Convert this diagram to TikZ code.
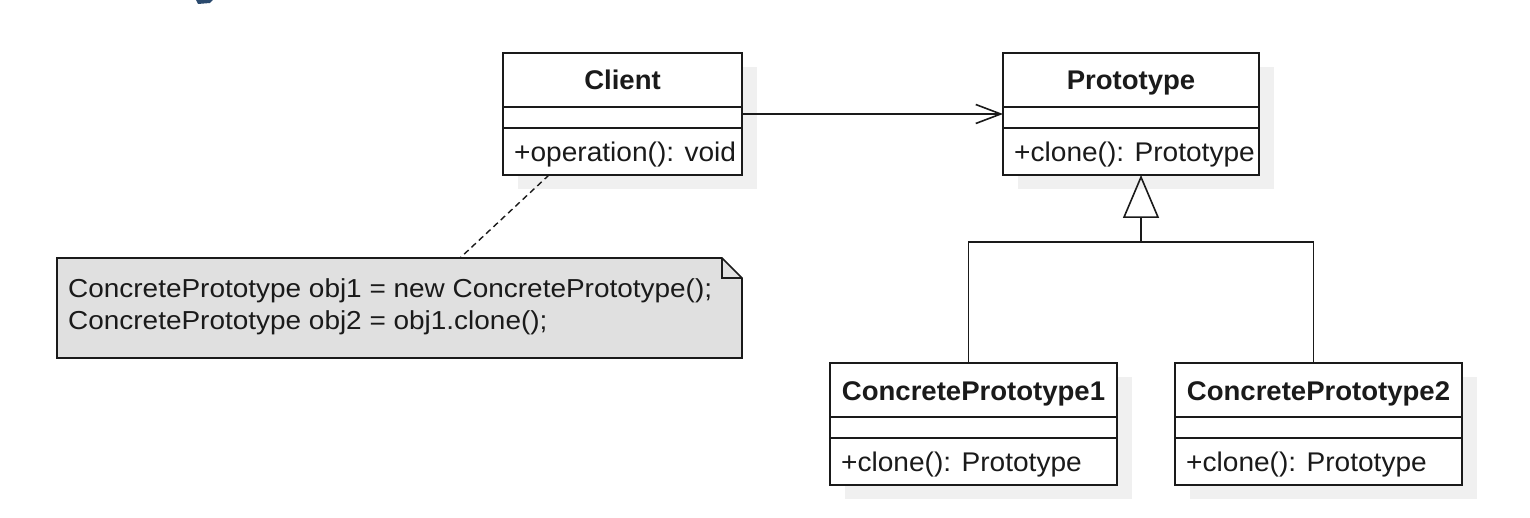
\documentclass[tikz,border=0pt]{standalone}
\usepackage{fontspec}
\setmainfont{Liberation Sans}
\newfontfamily\methodfont{Liberation Sans}[FakeStretch=1.04]
\newfontfamily\notefont{Liberation Sans}[FakeStretch=1.075]
\newfontfamily\titlefont{Liberation Sans}[FakeStretch=1.02]
\usetikzlibrary{arrows.meta}
\definecolor{shadowc}{HTML}{F0F0F0}
\definecolor{notefill}{HTML}{E0E0E0}
\definecolor{linec}{HTML}{1A1A1A}
\definecolor{textc}{HTML}{1A1A1A}
\definecolor{headc}{HTML}{2B4A6E}
\tikzset{
  classbox/.style={draw=linec, line width=1.6pt, fill=white, minimum height=122pt, inner sep=0pt, outer sep=0pt},
  sepline/.style={draw=linec, line width=1.6pt},
  titletext/.style={font=\titlefont\fontsize{27}{32}\selectfont\bfseries, text=textc, anchor=base, inner sep=0pt},
  methodtext/.style={font=\methodfont\fontsize{27}{32}\selectfont, text=textc, anchor=base west, inner sep=0pt},
  notetext/.style={font=\notefont\fontsize{26}{31}\selectfont, text=textc, anchor=base west, inner sep=0pt},
  connector/.style={draw=linec, line width=1.6pt},
  assoc/.style={connector, -{Straight Barb[length=25pt, width=19pt, line width=1.6pt]}},
  generalization/.style={connector, -{Triangle[open, length=43pt, width=36pt, line width=1.6pt]}},
  notelink/.style={draw=linec, line width=1.4pt, dash pattern=on 6pt off 4pt},
}
\newcommand\umlclassbox[6]{%
  \fill[shadowc] (#2+15,#3+14) rectangle ++(#4,122);
  \node[classbox, minimum width=#4pt] (#1) at (#2+#4/2, #3+61) {};
  \draw[sepline] ([yshift=-54pt]#1.north west) -- ([yshift=-54pt]#1.north east);
  \draw[sepline] ([yshift=-75pt]#1.north west) -- ([yshift=-75pt]#1.north east);
  \node[titletext] (#1-title) at ([yshift=-37pt]#1.north) {#5};
  \node[methodtext] (#1-method) at ([xshift=11pt, yshift=-108.5pt]#1.north west) {#6};
}
\begin{document}
\begin{tikzpicture}[x=1pt, y=-1pt]
\useasboundingbox (0,0) rectangle (1530,518);
% cropped heading fragment at the top edge
\fill[headc] (196,0) -- (213,0) -- (210,3) -- (198,4) -- cycle;

\umlclassbox{client}{503}{53}{239}{Client}{+operation(): void}
\umlclassbox{proto}{1003}{53}{256}{Prototype}{+clone(): Prototype}
\umlclassbox{cp1}{830}{363}{287}{ConcretePrototype1}{+clone(): Prototype}
\umlclassbox{cp2}{1175}{363}{287}{ConcretePrototype2}{+clone(): Prototype}

% note
\node[minimum width=685pt, minimum height=100pt, inner sep=0pt, outer sep=0pt] (note) at (399.5,308) {};
\filldraw[fill=notefill, draw=linec, line width=1.6pt, line join=miter]
  (note.north west) -- ([xshift=-20pt]note.north east) -- ([yshift=-20pt]note.north east)
  -- (note.south east) -- (note.south west) -- cycle;
\draw[connector] ([xshift=-20pt]note.north east) -- ([xshift=-20pt,yshift=-20pt]note.north east) -- ([yshift=-20pt]note.north east);
\node[notetext] (n1) at (68,298) {ConcretePrototype obj1 = new ConcretePrototype();};
\node[notetext] (n2) at (68,330) {ConcretePrototype obj2 = obj1.clone();};

% connectors
\draw[assoc] (client.east) -- (proto.west);
\draw[notelink] ([xshift=46pt]client.south west) -- ([xshift=403pt]note.north west);
\coordinate (junction) at (1141,242);
\draw[generalization] (junction) -- (junction |- proto.south);
\draw[connector] ([xshift=-5pt]cp1.north) |- (junction) -| ([xshift=-5pt]cp2.north);
\end{tikzpicture}
\end{document}
